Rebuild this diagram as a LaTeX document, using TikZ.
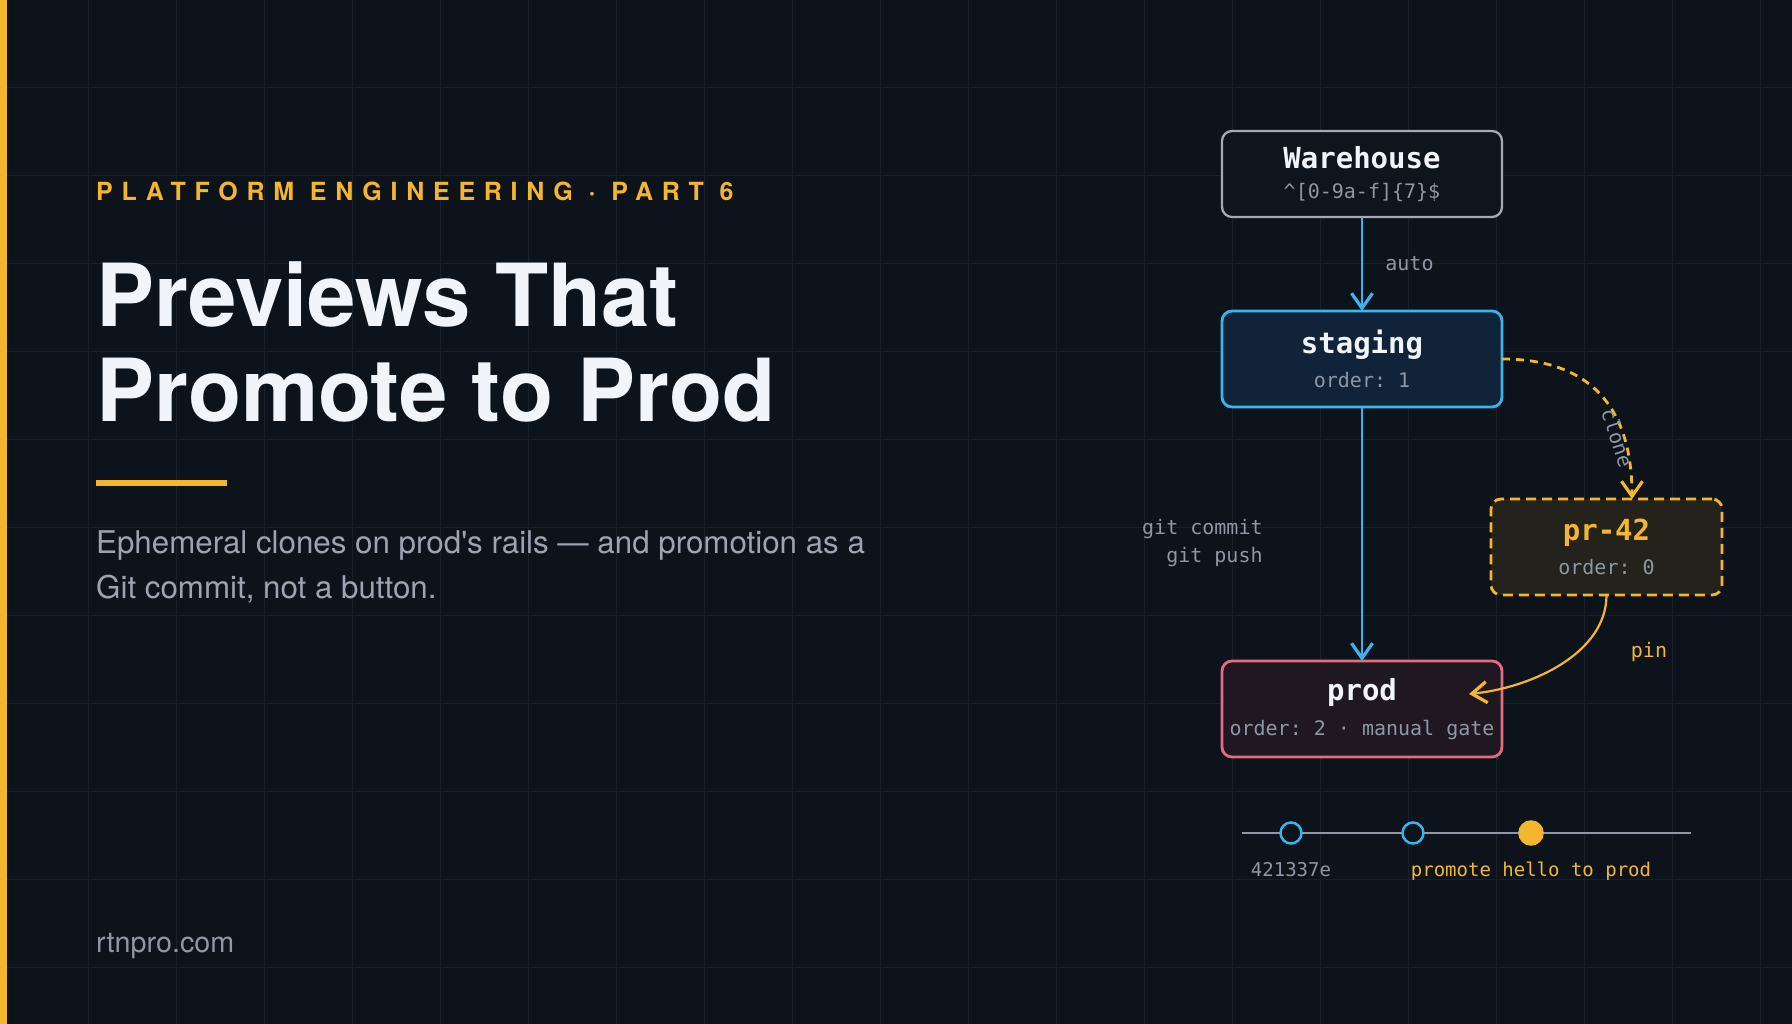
\documentclass[tikz,border=0pt]{standalone}
\usepackage{fontspec}
\usetikzlibrary{arrows.meta,positioning}
\setmainfont{TeX Gyre Heros}
\setmonofont{DejaVu Sans Mono}
\newfontfamily\kickfont[LetterSpace=35]{TeX Gyre Heros}
\definecolor{bg}{HTML}{0D131B}
\definecolor{gridc}{HTML}{18202B}
\definecolor{acc}{HTML}{F4B62F}
\definecolor{sky}{HTML}{3AB4EC}
\definecolor{skyfill}{HTML}{102339}
\definecolor{rose}{HTML}{E46B80}
\definecolor{rosefill}{HTML}{201821}
\definecolor{ambfill}{HTML}{23221B}
\definecolor{whfill}{HTML}{0F151D}
\definecolor{edge}{HTML}{A3ABB5}
\definecolor{txt}{HTML}{F1F5F9}
\definecolor{mut}{HTML}{8D97A5}
\definecolor{sub}{HTML}{9AA4B2}
\newcommand{\nmfont}{\ttfamily\bfseries\fontsize{29}{32}\selectfont}
\newcommand{\smfont}{\ttfamily\fontsize{20}{24}\selectfont}
\tikzset{
  box/.style={draw,line width=2.8pt,rounded corners=10pt,align=center,inner sep=0pt,outer sep=0pt,
    minimum width=280pt,minimum height=96pt,text=txt},
  whbox/.style={box,draw=edge,fill=whfill,line width=2.3pt,minimum height=86pt},
  sbox/.style={box,draw=sky,fill=skyfill},
  pbox/.style={box,draw=rose,fill=rosefill},
  cbox/.style={box,draw=acc,fill=ambfill,dash pattern=on 10pt off 6pt,minimum width=231pt},
  ar/.style={-{Straight Barb[length=15pt,width=21pt,line width=3.2pt]},line width=2.8pt,draw=sky},
  lbl/.style={font=\smfont,text=mut,inner sep=0pt},
  cmt/.style={circle,draw=sky,fill=bg,line width=2.5pt,minimum size=21pt,inner sep=0pt},
  lede/.style={anchor=base west,inner sep=0pt,text=sub,font=\fontsize{31.3}{36}\selectfont},
}
\begin{document}
\begin{tikzpicture}[x=1pt,y=1pt]
  \useasboundingbox (0,0) rectangle (1792,1024);
  % backdrop
  \fill[bg] (0,0) rectangle (1792,1024);
  \foreach \i in {1,...,20} \draw[gridc,line width=1pt] (\i*88,0) -- (\i*88,1024);
  \foreach \j in {1,...,11} \draw[gridc,line width=1pt] (0,1024-\j*88) -- (1792,1024-\j*88);
  \fill[acc] (0,0) rectangle (7,1024);

  % left column
  \node[anchor=base west,inner sep=0pt,text=acc,font=\kickfont\bfseries\fontsize{25}{30}\selectfont] (kick) at (96,823) {PLATFORM ENGINEERING · PART 6};
  \node[anchor=base west,inner sep=0pt,text=txt,font=\bfseries\fontsize{87}{92}\selectfont] (head1) at (96,697) {Previews That};
  \node[anchor=base west,inner sep=0pt,text=txt,font=\bfseries\fontsize{87}{92}\selectfont] (head2) at (96,602) {Promote to Prod};
  \fill[acc] (96,538) rectangle (227,544);
  \node[lede] (lede1) at (96,470) {Ephemeral clones on prod\textquotesingle s rails — and promotion as a};
  \node[lede] (lede2) at (96,425) {Git commit, not a button.};
  \node[lede,text=mut,font=\fontsize{28.7}{32}\selectfont] (site) at (96,71) {rtnpro.com};

  % stages
  \node[whbox] (wh) at (1362,850) {{\nmfont Warehouse}\\[13pt]{\smfont\color{mut}\textasciicircum[0-9a-f]\{7\}\$}};
  \node[sbox,below=94pt of wh] (stg) {{\nmfont staging}\\[12pt]{\smfont\color{mut}order: 1}};
  \node[pbox,below=254pt of stg] (prod) {{\nmfont prod}\\[12pt]{\smfont\color{mut}order: 2 · manual gate}};
  \node[cbox] (pr) at (1606.5,477) {{\nmfont\color{acc}pr-42}\\[12pt]{\smfont\color{mut}order: 0}};
  \coordinate (pintip) at ([xshift=-33pt,yshift=15pt]prod.east);

  \draw[ar] (wh) -- node[lbl,right=22pt] (autolbl) {auto} (stg);
  \draw[ar] (stg) -- node[lbl,left=98pt,align=right,yshift=-9.5pt] (gitlbl) {git commit\\[4pt]git push} (prod);
  \draw[ar,draw=acc,dash pattern=on 8pt off 6pt] (stg.east) .. controls +(87,0) and +(0,93) .. ([xshift=25.5pt]pr.north)
    node[lbl,sloped,pos=0.74,below=-3pt] (clonelbl) {clone};
  \draw[ar,draw=acc,line width=2.2pt] (pr.south) .. controls +(0,-59) and +(61,6) .. (pintip);
  \node[lbl,text=acc,anchor=base] (pinlbl) at (1649,366) {pin};

  % commit line
  \coordinate (tl0) at (1242,191);
  \coordinate (tl1) at (1691,191);
  \draw[line width=1.5pt,draw=mut] (tl0) -- (tl1);
  \node[cmt] (k1) at (1291,191) {};
  \node[cmt] (k2) at (1413,191) {};
  \node[cmt,draw=acc,fill=acc,minimum size=23pt] (k3) at (1531,191) {};
  \node[lbl,anchor=base,font=\ttfamily\fontsize{19}{23}\selectfont] (k1lbl) at (1291,147) {421337e};
  \node[lbl,anchor=base,text=acc,font=\ttfamily\fontsize{19}{23}\selectfont] (k3lbl) at (1531,147) {promote hello to prod};
\end{tikzpicture}
\end{document}
